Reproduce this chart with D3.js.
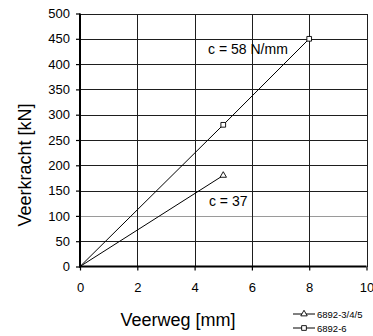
<!DOCTYPE html>
<html><head><meta charset="utf-8">
<script src="https://cdn.jsdelivr.net/npm/d3@7"></script>
<style>body{margin:0;background:#fff}svg{display:block}text{font-family:"Liberation Sans",Arial,sans-serif;fill:#000}</style>
</head><body>
<svg id="c" width="373" height="336"></svg>
<script>
const seriesNames = ["6892-3/4/5", "6892-6"];
const seriesA_x = [0, 5];
const seriesA_y = [0, 180];
const seriesB_x = [0, 5, 8];
const seriesB_y = [0, 280, 450];
const xTicks = [0, 2, 4, 6, 8, 10];
const yTicks = [0, 50, 100, 150, 200, 250, 300, 350, 400, 450, 500];
const annotations = [
  {text: "c = 58 N/mm", x: 4.47, y: 420},
  {text: "c = 37", x: 4.5, y: 120}
];

const svg = d3.select("#c");
const x = d3.scaleLinear().domain([0, 10]).range([80, 366.5]);
const y = d3.scaleLinear().domain([0, 500]).range([266.5, 13.5]);

// gridlines
const g = svg.append("g").attr("shape-rendering", "crispEdges");
g.selectAll(".hg").data(yTicks.filter(d => d > 0)).join("line")
  .attr("x1", x(0)).attr("x2", x(10))
  .attr("y1", d => Math.round(y(d)) + 0.5).attr("y2", d => Math.round(y(d)) + 0.5)
  .attr("stroke", d => d === 100 ? "#9a9a9a" : "#1e1e1e").attr("stroke-width", 1);
g.selectAll(".vg").data(xTicks.filter(d => d > 0)).join("line")
  .attr("y1", y(0)).attr("y2", y(500))
  .attr("x1", d => Math.round(x(d)) + 0.5).attr("x2", d => Math.round(x(d)) + 0.5)
  .attr("stroke", "#1e1e1e").attr("stroke-width", 1);

// axes
const yAxis = d3.axisLeft(y).tickValues(yTicks).tickSize(4).tickPadding(6);
const xAxis = d3.axisBottom(x).tickValues(xTicks).tickSize(4).tickPadding(12);
const ya = svg.append("g").attr("transform", `translate(${x(0)},0)`).call(yAxis);
const xa = svg.append("g").attr("transform", `translate(0,${y(0)})`).call(xAxis);
[ya, xa].forEach(a => {
  a.select(".domain").attr("stroke", "#000").attr("stroke-width", 2);
  a.selectAll(".tick line").attr("stroke", "#000").attr("stroke-width", 1.2);
  a.selectAll("text").attr("font-size", 13).attr("font-family", '"Liberation Sans",Arial,sans-serif').attr("fill", "#000");
});
ya.select(".domain").attr("d", `M0,${y(0)+1}V${y(500)}`);
xa.select(".domain").attr("d", `M${x(0)-1},0H${x(10)}`);

// series lines
const line = d3.line().x(d => x(d[0])).y(d => y(d[1]));
const dataA = seriesA_x.map((v, i) => [v, seriesA_y[i]]);
const dataB = seriesB_x.map((v, i) => [v, seriesB_y[i]]);
svg.append("path").attr("d", line(dataA)).attr("fill", "none").attr("stroke", "#000").attr("stroke-width", 1);
svg.append("path").attr("d", line(dataB)).attr("fill", "none").attr("stroke", "#000").attr("stroke-width", 1);

const tri = d3.symbol().type(d3.symbolTriangle).size(18);
const sq = d3.symbol().type(d3.symbolSquare).size(22);
svg.selectAll(".ma").data(dataA.slice(1)).join("path")
  .attr("d", tri).attr("transform", d => `translate(${x(d[0])},${y(d[1])})`)
  .attr("fill", "#fff").attr("stroke", "#000").attr("stroke-width", 0.9);
svg.selectAll(".mb").data(dataB.slice(1)).join("path")
  .attr("d", sq).attr("transform", d => `translate(${x(d[0])},${y(d[1])})`)
  .attr("fill", "#fff").attr("stroke", "#000").attr("stroke-width", 0.9);

// annotations
svg.selectAll(".an").data(annotations).join("text")
  .attr("x", d => x(d.x)).attr("y", d => y(d.y)).attr("font-size", 14).text(d => d.text);

// axis titles
svg.append("text").attr("x", 178).attr("y", 326).attr("text-anchor", "middle").attr("font-size", 18).text("Veerweg [mm]");
svg.append("text").attr("transform", "translate(31,165) rotate(-90)").attr("text-anchor", "middle").attr("font-size", 18).text("Veerkracht [kN]");

// legend
const lg = svg.append("g");
const rows = [{name: seriesNames[0], sym: tri, y: 314}, {name: seriesNames[1], sym: sq, y: 328}];
rows.forEach(r => {
  lg.append("line").attr("x1", 293).attr("x2", 315).attr("y1", r.y).attr("y2", r.y).attr("stroke", "#000").attr("stroke-width", 1);
  lg.append("path").attr("d", r.sym).attr("transform", `translate(304,${r.y})`).attr("fill", "#fff").attr("stroke", "#000").attr("stroke-width", 0.9);
  lg.append("text").attr("x", 317).attr("y", r.y + 3.5).attr("font-size", 9.5).text(r.name);
});
</script>
</body></html>
